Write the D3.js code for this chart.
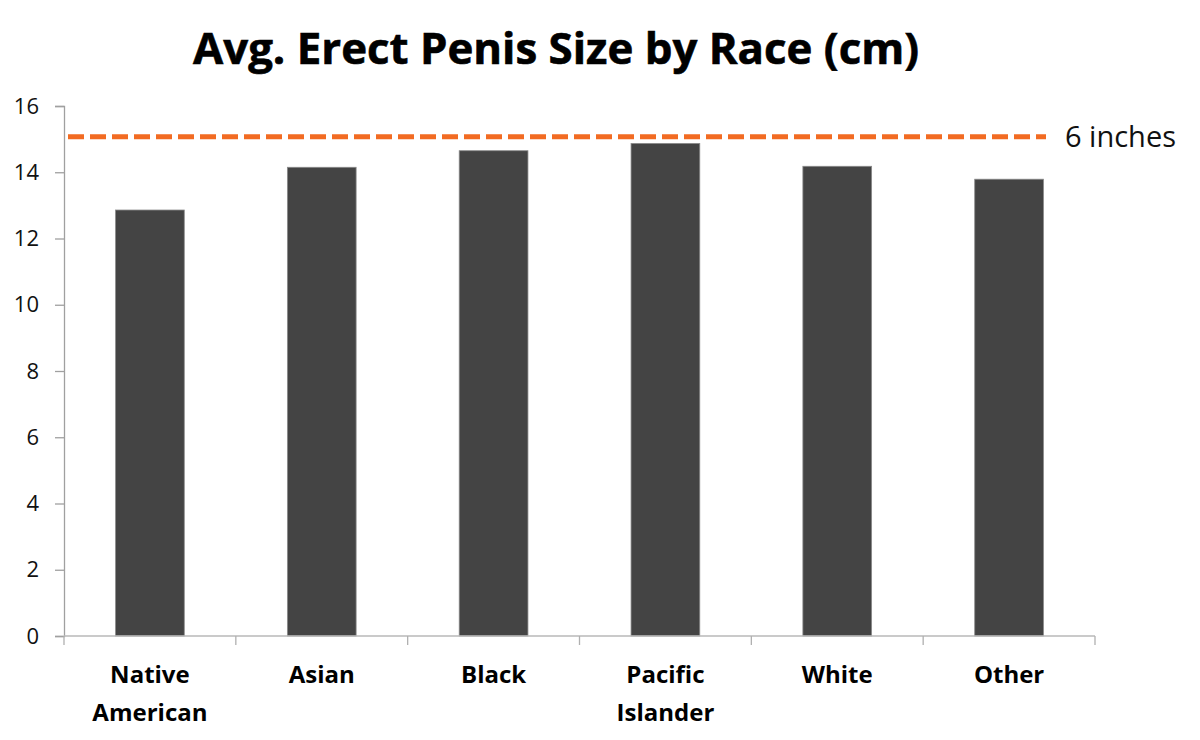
<!DOCTYPE html>
<html>
<head>
<meta charset="utf-8">
<script src="https://cdn.jsdelivr.net/npm/d3@7"></script>
<style>
  html, body { margin: 0; padding: 0; background: #fff; }
  svg { display: block; }
</style>
</head>
<body>
<svg id="chart" width="1200" height="740"></svg>
<script>
const categories = [["Native", "American"], ["Asian"], ["Black"], ["Pacific", "Islander"], ["White"], ["Other"]];
const values = [12.86, 14.15, 14.65, 14.87, 14.18, 13.79];
const yTicks = [0, 2, 4, 6, 8, 10, 12, 14, 16];
const referenceValue = 15.07;
const referenceLabel = "6 inches";
const title = "Avg. Erect Penis Size by Race (cm)";

(function () {
const svg = d3.select("#chart");
const plotLeft = 64, plotRight = 1095, plotTop = 106, plotBottom = 636;

const x = d3.scaleBand().domain(d3.range(categories.length)).range([plotLeft, plotRight]).padding(0);
const y = d3.scaleLinear().domain([0, 16]).range([plotBottom, plotTop]);

// Title
svg.append("text")
  .attr("x", 556).attr("y", 64)
  .attr("text-anchor", "middle")
  .attr("font-family", "'Open Sans', sans-serif")
  .attr("font-weight", "bold")
  .attr("font-size", 43)
  .attr("textLength", 726)
  .attr("lengthAdjust", "spacingAndGlyphs")
  .attr("fill", "#000")
  .attr("stroke", "#000")
  .attr("stroke-width", 0.6)
  .text(title);

// Bars
const barW = x.bandwidth() * 0.4;
svg.append("g").selectAll("rect").data(values).join("rect")
  .attr("x", (d, i) => x(i) + (x.bandwidth() - barW) / 2)
  .attr("y", d => y(d))
  .attr("width", barW)
  .attr("height", d => y(0) - y(d))
  .attr("fill", "#444444")
  .attr("stroke", "#8a8a8a")
  .attr("stroke-width", 0.8);

// Y axis
const yAxis = svg.append("g").attr("transform", `translate(${plotLeft},0)`)
  .call(d3.axisLeft(y).tickValues(yTicks).tickSize(9).tickPadding(16).tickFormat(d3.format("d")));
yAxis.select(".domain").attr("stroke", "#a0a0a0").attr("stroke-width", 1.3);
yAxis.selectAll(".tick line").attr("stroke", "#a0a0a0").attr("stroke-width", 1.3);
yAxis.selectAll(".tick text")
  .attr("font-family", "'Open Sans', sans-serif")
  .attr("font-size", 22)
  .attr("fill", "#111");

// X axis
const xAxisG = svg.append("g").attr("transform", `translate(0,${plotBottom})`);
xAxisG.append("line").attr("x1", plotLeft).attr("x2", plotRight).attr("y1", 0).attr("y2", 0)
  .attr("stroke", "#b8b8b8").attr("stroke-width", 1.5);
const boundaries = d3.range(categories.length + 1).map(i => i < categories.length ? x(i) : x(categories.length - 1) + x.bandwidth());
xAxisG.selectAll("line.tk").data(boundaries).join("line")
  .attr("class", "tk")
  .attr("x1", d => d).attr("x2", d => d).attr("y1", 0).attr("y2", 9)
  .attr("stroke", "#b0b0b0").attr("stroke-width", 1.3);

const labels = xAxisG.selectAll("text.cat").data(categories).join("text")
  .attr("class", "cat")
  .attr("text-anchor", "middle")
  .attr("font-family", "'Open Sans', sans-serif")
  .attr("font-weight", "bold")
  .attr("font-size", 24)
  .attr("fill", "#000")
  .attr("transform", (d, i) => `translate(${x(i) + x.bandwidth() / 2},0)`);
labels.each(function(d) {
  const t = d3.select(this);
  d.forEach((line, j) => {
    t.append("tspan").attr("x", 0).attr("y", 47 + j * 38).text(line);
  });
});

// Reference line
svg.append("line")
  .attr("x1", 68).attr("x2", 1046)
  .attr("y1", y(referenceValue)).attr("y2", y(referenceValue))
  .attr("stroke", "#f26b22")
  .attr("stroke-width", 5)
  .attr("stroke-dasharray", "16,6");

svg.append("text")
  .attr("x", 1065).attr("y", y(referenceValue) + 10)
  .attr("font-family", "'Open Sans', sans-serif")
  .attr("font-size", 29)
  .attr("fill", "#111")
  .text(referenceLabel);
})();
</script>
</body>
</html>
